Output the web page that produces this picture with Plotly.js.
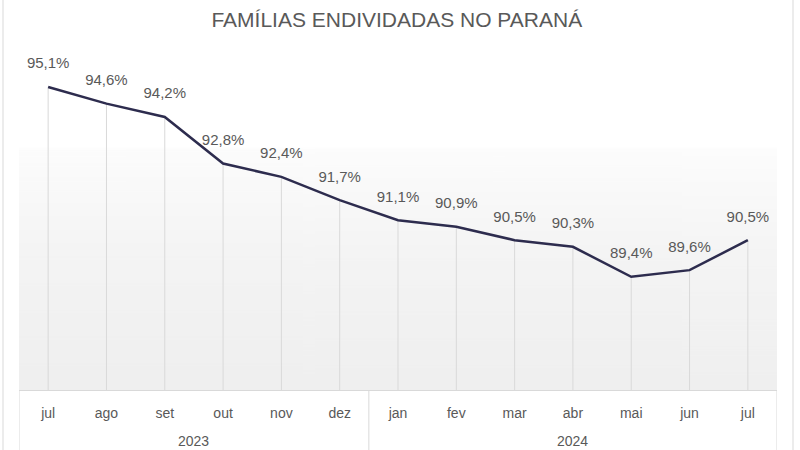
<!DOCTYPE html>
<html>
<head>
<meta charset="utf-8">
<script src="https://cdn.plot.ly/plotly-3.0.1.min.js"></script>
<style>
  html, body { margin: 0; padding: 0; background: #ffffff; }
  #chart { width: 800px; height: 450px; }
</style>
</head>
<body>
<div id="chart"></div>
<script>
// Share of indebted families in Paraná, monthly
const years  = ['2023', '2023', '2023', '2023', '2023', '2023',
                '2024', '2024', '2024', '2024', '2024', '2024', '2024'];
const months = ['jul', 'ago', 'set', 'out', 'nov', 'dez',
                'jan', 'fev', 'mar', 'abr', 'mai', 'jun', 'jul'];
const values = [95.1, 94.6, 94.2, 92.8, 92.4, 91.7,
                91.1, 90.9, 90.5, 90.3, 89.4, 89.6, 90.5];

const yMin = 86, yMax = 96;
const W = 800, H = 450;
const M = { l: 19, r: 23, t: 57, b: 60 };
const plotW = W - M.l - M.r, plotH = H - M.t - M.b;

const font = 'Liberation Sans, Arial, sans-serif';
const grey = '#d9d9d9';
const textGrey = '#595959';

// one category per month, keyed by month and year
const cats = months.map((m, i) => m + ' ' + years[i]);
const labels = values.map(v => v.toFixed(1).replace('.', ',') + '%');

// year groups: first and last category index of each year
const groups = [];
years.forEach((y, i) => {
  const g = groups[groups.length - 1];
  if (g && g.year === y) g.end = i;
  else groups.push({ year: y, start: i, end: i });
});

// vertical gradient for the plot background
function gradientURL() {
  const c = document.createElement('canvas');
  c.width = 4; c.height = 400;
  const g = c.getContext('2d');
  const grd = g.createLinearGradient(0, 0, 0, 400);
  grd.addColorStop(0, '#ffffff');
  grd.addColorStop(0.27, '#ffffff');
  grd.addColorStop(0.28, '#fcfcfc');
  grd.addColorStop(0.6, '#f4f4f4');
  grd.addColorStop(1, '#efefef');
  g.fillStyle = grd;
  g.fillRect(0, 0, 4, 400);
  return c.toDataURL();
}

// drop lines from each point down to the axis
const drops = {
  x: cats, y: values, type: 'scatter', mode: 'markers',
  marker: { size: 1, color: 'rgba(0,0,0,0)' },
  error_y: {
    type: 'data', symmetric: false,
    array: values.map(() => 0),
    arrayminus: values.map(v => v - yMin),
    color: grey, thickness: 1, width: 0
  },
  hoverinfo: 'skip', showlegend: false
};

const line = {
  x: cats, y: values, type: 'scatter', mode: 'lines+markers+text',
  line: { color: '#2d2c4e', width: 2.5 },
  marker: { size: 22, color: 'rgba(0,0,0,0)' },
  text: labels, textposition: 'top center',
  textfont: { family: font, size: 15, color: textGrey },
  cliponaxis: false, showlegend: false
};

const fx = px => (px - M.l) / plotW;
const fy = py => (H - M.b - py) / plotH;

const vline = (x, xref, y0, y1) => ({
  type: 'line', xref: xref, yref: 'paper',
  x0: x, x1: x, y0: y0, y1: y1,
  line: { color: grey, width: 1 }
});

// outer frame edges, plus the side and divider lines of the year boxes
const shapes = [
  vline(fx(3), 'paper', fy(0), fy(H)),
  vline(fx(793), 'paper', fy(0), fy(H))
];
groups.forEach(g => {
  shapes.push(vline(g.start - 0.5, 'x', 0, fy(H)));
});
shapes.push(vline(groups[groups.length - 1].end + 0.5, 'x', 0, fy(H)));

const annotations = groups.map(g => ({
  text: g.year, xref: 'x', yref: 'paper',
  x: (g.start + g.end) / 2, y: fy(441),
  xanchor: 'center', yanchor: 'middle', showarrow: false,
  font: { family: font, size: 14, color: textGrey }
}));

const layout = {
  width: W, height: H,
  margin: M,
  paper_bgcolor: '#ffffff',
  plot_bgcolor: 'rgba(0,0,0,0)',
  title: {
    text: 'FAMÍLIAS ENDIVIDADAS NO PARANÁ',
    font: { family: font, size: 21, color: textGrey },
    x: 0.496, xanchor: 'center', y: 0.957, yanchor: 'middle'
  },
  xaxis: {
    type: 'category',
    showgrid: false, zeroline: false,
    showline: true, linecolor: grey, linewidth: 1,
    tickvals: cats, ticktext: months,
    ticks: '', ticklabelstandoff: 10,
    tickfont: { family: font, size: 14, color: textGrey },
    range: [-0.5, cats.length - 0.5]
  },
  yaxis: {
    range: [yMin, yMax], visible: false, showgrid: false, zeroline: false
  },
  images: [{
    source: gradientURL(), xref: 'paper', yref: 'paper',
    x: 0, y: 1, sizex: 1, sizey: 1, sizing: 'stretch',
    xanchor: 'left', yanchor: 'top', layer: 'below'
  }],
  shapes: shapes,
  annotations: annotations
};

Plotly.newPlot('chart', [drops, line], layout, { displayModeBar: false, staticPlot: true });
</script>
</body>
</html>
